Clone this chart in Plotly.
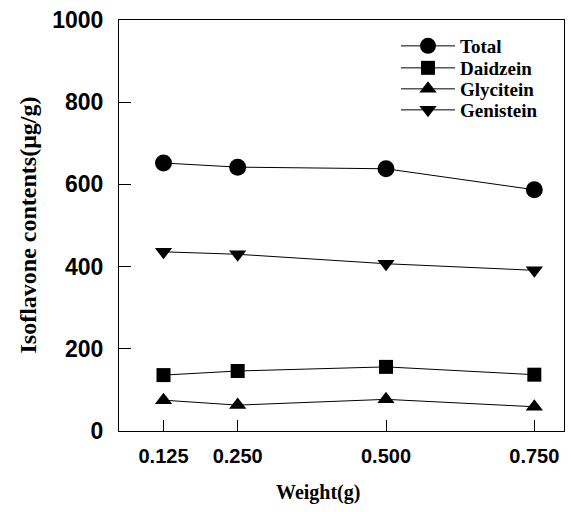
import plotly.graph_objects as go

weights = [0.125, 0.250, 0.500, 0.750]
tick_labels = ["0.125", "0.250", "0.500", "0.750"]
total = [652, 642, 638, 587]
daidzein = [136, 146, 156, 137]
glycitein = [75, 63, 77, 59]
genistein = [436, 430, 407, 391]

series = [
    ("Total", total, "circle", 17),
    ("Daidzein", daidzein, "square", 14),
    ("Glycitein", glycitein, "triangle-up", 15),
    ("Genistein", genistein, "triangle-down", 15),
]

W, H = 571, 512
L, R, T, B = 119, 7, 20, 81
pw = W - L - R
ph = H - T - B

legend_rows = [46, 68, 89, 110]
legend_names = ["legend", "legend2", "legend3", "legend4"]

fig = go.Figure()
for (name, vals, sym, sz), lg in zip(series, legend_names):
    fig.add_trace(go.Scatter(
        x=weights, y=vals, name=name, mode="lines+markers",
        line=dict(color="black", width=1),
        marker=dict(symbol=sym, size=sz, color="black"),
        legend=lg,
    ))

legend_layouts = {}
for lg, yrow in zip(legend_names, legend_rows):
    legend_layouts[lg] = dict(
        x=(396 - L) / pw, y=1 - (yrow - T) / ph, xanchor="left", yanchor="middle",
        bgcolor="rgba(0,0,0,0)", borderwidth=0, itemwidth=54,
        font=dict(family="Liberation Serif", size=19, color="black", weight="bold"),
    )

fig.update_layout(
    width=W, height=H,
    margin=dict(l=L, r=R, t=T, b=B, pad=0),
    paper_bgcolor="white", plot_bgcolor="white",
    showlegend=True,
    xaxis=dict(
        range=[0.05, 0.80], tickvals=weights, ticktext=tick_labels,
        ticks="inside", ticklen=11, tickwidth=1, tickcolor="black",
        showline=True, linecolor="black", linewidth=1, mirror=True,
        showgrid=False, zeroline=False,
        tickfont=dict(family="Liberation Sans", size=20, color="black", weight="bold"),
        ticklabelstandoff=7,
    ),
    yaxis=dict(
        range=[0, 1000], tickvals=[0, 200, 400, 600, 800, 1000],
        ticks="inside", ticklen=12, tickwidth=1, tickcolor="black",
        showline=True, linecolor="black", linewidth=1, mirror=True,
        showgrid=False, zeroline=False,
        tickfont=dict(family="Liberation Sans", size=23, color="black", weight="bold"),
        ticklabelstandoff=10,
    ),
    annotations=[
        dict(text="Weight(g)", xref="paper", yref="paper", x=(318 - L) / pw, y=0,
             yshift=-61, xanchor="center", yanchor="middle", showarrow=False,
             font=dict(family="Liberation Serif", size=20, color="black", weight="bold")),
        dict(text="Isoflavone contents(μg/g)", xref="paper", yref="paper", x=0, y=0.5,
             xshift=-(L - 27), xanchor="center", yanchor="middle", textangle=-90,
             showarrow=False,
             font=dict(family="Liberation Serif", size=24, color="black", weight="bold")),
    ],
    **legend_layouts,
)

fig.write_html("out.html")
